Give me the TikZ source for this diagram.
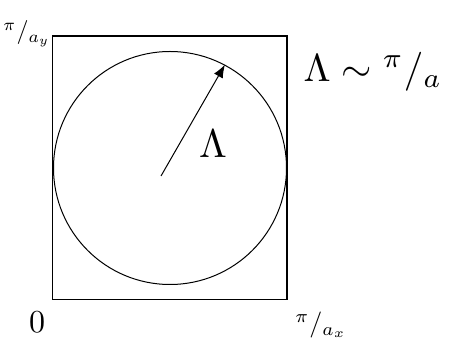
\documentclass[tikz,border=0pt]{standalone}
\usepackage{amsmath,amssymb}
\usetikzlibrary{arrows.meta}
\newcommand{\sfrac}[2]{{}^{#1}/_{#2}}

\begin{document}
\begin{tikzpicture}[x=1pt, y=1pt, line width=1.2pt]
\useasboundingbox (0,0) rectangle (450,356);
% box and inscribed circle
\draw (52.5,56.5) rectangle (287,320);
\node[draw, circle, line width=1pt, minimum size=233pt, inner sep=0pt] (disk) at (170,188) {};
\coordinate (tail) at (161,180);
\draw[line width=1pt, -{Latex[length=13pt,width=10pt]}] (tail) -- (disk.62.5);
\node[scale=4] (lam) at (213,212) {$\Lambda$};
\node[scale=3.9] (rel) at (373,284) {$\Lambda\sim\sfrac{\pi}{a}$};
% axis labels
\node[scale=2.4] (ymax) at (27,322) {$\sfrac{\pi}{a_y}$};
\node[scale=3.2] (zero) at (37,34) {$0$};
\node[scale=2.6] (xmax) at (321,31) {$\sfrac{\pi}{a_x}$};
\end{tikzpicture}
\end{document}
